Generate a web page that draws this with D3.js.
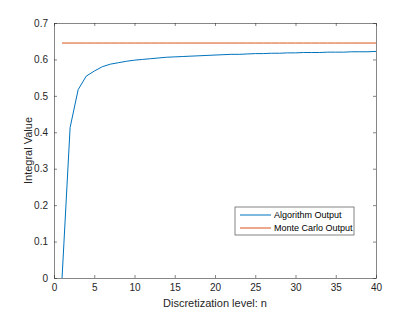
<!DOCTYPE html>
<html>
<head>
<meta charset="utf-8">
<script src="https://cdn.jsdelivr.net/npm/d3@7"></script>
<style>
  body { margin: 0; background: #fff; }
  svg { display: block; font-family: "Liberation Sans", Arial, sans-serif; }
</style>
</head>
<body>
<div id="chart"></div>
<script>
// discretization levels and algorithm output
const levels = d3.range(1, 41);
const algorithmValues = [
  0.000, 0.413, 0.517, 0.554, 0.568, 0.580, 0.587, 0.591, 0.595, 0.598,
  0.600, 0.602, 0.604, 0.606, 0.607, 0.608, 0.609, 0.610, 0.611, 0.612,
  0.613, 0.614, 0.614, 0.615, 0.616, 0.616, 0.617, 0.617, 0.618, 0.618,
  0.619, 0.619, 0.619, 0.620, 0.620, 0.620, 0.621, 0.621, 0.621, 0.622
];
const monteCarloValue = 0.645;
const seriesNames = ['Algorithm Output', 'Monte Carlo Output'];
const xTicks = [0, 5, 10, 15, 20, 25, 30, 35, 40];
const yTicks = [0, 0.1, 0.2, 0.3, 0.4, 0.5, 0.6, 0.7];

const width = 415, height = 312;
const margin = { top: 23, right: 39, bottom: 34, left: 54 };
const colors = ['#0072BD', '#D95319'];
const axisColor = '#262626';

const svg = d3.select('#chart').append('svg')
  .attr('width', width)
  .attr('height', height);

const x = d3.scaleLinear().domain([0, 40]).range([margin.left, width - margin.right]);
const y = d3.scaleLinear().domain([0, 0.7]).range([height - margin.bottom, margin.top]);

// box with inward ticks on all four sides
const tickFmt = d => d === 0 ? '0' : d3.format('.1f')(d);
const axes = [
  { axis: d3.axisBottom(x).tickValues(xTicks).tickFormat(d3.format('d')), at: `translate(0,${y(0)})` },
  { axis: d3.axisTop(x).tickValues(xTicks).tickFormat(''), at: `translate(0,${y(0.7)})` },
  { axis: d3.axisLeft(y).tickValues(yTicks).tickFormat(tickFmt), at: `translate(${x(0)},0)` },
  { axis: d3.axisRight(y).tickValues(yTicks).tickFormat(''), at: `translate(${x(40)},0)` }
];

axes.forEach(a => {
  const g = svg.append('g')
    .attr('transform', a.at)
    .call(a.axis.tickSizeInner(-3).tickSizeOuter(0).tickPadding(6));
  g.select('.domain').attr('stroke', axisColor).attr('stroke-width', 0.8).attr('stroke-opacity', 0.7);
  g.selectAll('.tick line').attr('stroke', axisColor).attr('stroke-width', 0.8).attr('stroke-opacity', 0.7);
  g.selectAll('.tick text')
    .attr('fill', axisColor)
    .attr('font-size', 10);
});

// lines
const line = d3.line()
  .x((d, i) => x(levels[i]))
  .y(d => y(d));

svg.append('path')
  .datum(algorithmValues)
  .attr('fill', 'none')
  .attr('stroke', colors[0])
  .attr('stroke-width', 1)
  .attr('d', line);

svg.append('path')
  .datum(levels.map(() => monteCarloValue))
  .attr('fill', 'none')
  .attr('stroke', colors[1])
  .attr('stroke-width', 1)
  .attr('d', line);

// axis labels
svg.append('text')
  .attr('x', (x(0) + x(40)) / 2)
  .attr('y', 307)
  .attr('text-anchor', 'middle')
  .attr('font-size', 11)
  .attr('fill', axisColor)
  .text('Discretization level: n');

svg.append('text')
  .attr('transform', `translate(32,${(y(0) + y(0.7)) / 2}) rotate(-90)`)
  .attr('text-anchor', 'middle')
  .attr('font-size', 11)
  .attr('fill', axisColor)
  .text('Integral Value');

// legend
const legend = svg.append('g').attr('transform', 'translate(235,207)');
legend.append('rect')
  .attr('width', 119)
  .attr('height', 28)
  .attr('fill', '#fff')
  .attr('stroke', axisColor)
  .attr('stroke-width', 0.8)
  .attr('stroke-opacity', 0.7);

seriesNames.forEach((name, i) => {
  const row = legend.append('g').attr('transform', `translate(0,${8 + i * 13})`);
  row.append('line')
    .attr('x1', 5).attr('x2', 36)
    .attr('stroke', colors[i])
    .attr('stroke-width', 1);
  row.append('text')
    .attr('x', 39)
    .attr('dy', '0.35em')
    .attr('font-size', 9)
    .attr('fill', '#000')
    .text(name);
});
</script>
</body>
</html>
